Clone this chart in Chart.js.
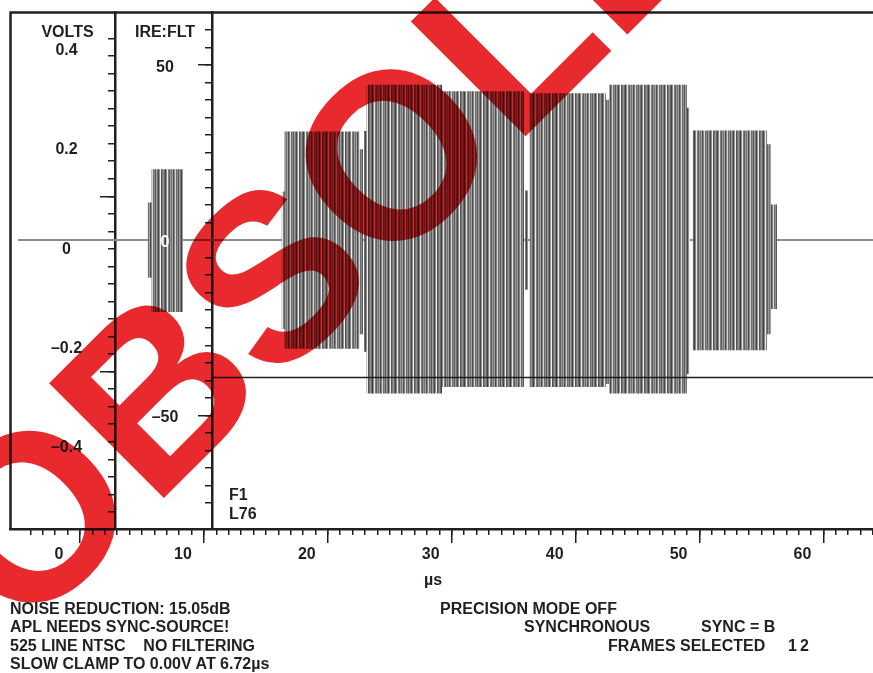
<!DOCTYPE html>
<html>
<head>
<meta charset="utf-8">
<script src="https://cdn.jsdelivr.net/npm/chart.js@4.4.1/dist/chart.umd.min.js"></script>
<style>
  body { margin: 0; background: #fff; }
  #wrap { position: relative; width: 873px; height: 673px; overflow: hidden; }
  canvas { position: absolute; left: 0; top: 0; }
  .txt { position: absolute; font: bold 16px "Liberation Sans", Arial, sans-serif; color: #231f20; line-height: 18.4px; white-space: pre; }
</style>
</head>
<body>
<div id="wrap">
  <canvas id="scope" width="873" height="673"></canvas>
  <div class="txt" style="left:413px;top:571px;width:40px;text-align:center">µs</div>
  <div class="txt" style="left:10px;top:600px">NOISE REDUCTION: 15.05dB
APL NEEDS SYNC-SOURCE!
525 LINE NTSC    NO FILTERING
SLOW CLAMP TO 0.00V AT 6.72µs</div>
  <div class="txt" style="left:440px;top:600px">PRECISION MODE OFF</div>
  <div class="txt" style="left:524px;top:618.4px">SYNCHRONOUS</div>
  <div class="txt" style="left:701px;top:618.4px">SYNC = B</div>
  <div class="txt" style="left:608px;top:636.8px">FRAMES SELECTED</div>
  <div class="txt" style="left:788px;top:636.8px">1</div>
  <div class="txt" style="left:800px;top:636.8px">2</div>
</div>
<script>
'use strict';
let ink = '#231f20';

// axis labels
let timeTicks = [0, 10, 20, 30, 40, 50, 60];
let voltTicks = [0.4, 0.2, 0, -0.2, -0.4];
let ireTicks = [50, 0, -50];

// burst packets (µs / volts)
let burstStart = [5.45, 5.77, 16.26, 16.51, 22.56, 22.92, 23.12, 29.22, 35.92, 36.28, 42.45, 42.70, 48.99, 49.44, 55.45, 55.77];
let burstEnd   = [5.77, 8.31, 16.51, 22.56, 22.84, 23.12, 29.22, 35.84, 36.16, 42.45, 42.70, 48.99, 49.23, 55.45, 55.77, 56.26];
let burstHigh  = [0.076, 0.143, 0.098, 0.219, 0.183, 0.22, 0.313, 0.300, 0.10, 0.296, 0.283, 0.313, 0.267, 0.221, 0.193, 0.072];
let burstLow   = [-0.076, -0.145, -0.179, -0.219, -0.19, -0.225, -0.309, -0.296, -0.10, -0.296, -0.29, -0.309, -0.27, -0.222, -0.19, -0.139];

// flat blanking level and the sync cursor line
let blankTime = [-5.0, 64.5];
let blankLevel = [0, 0];
let cursorTime = [10.65, 64.5];
let cursorLevel = [-0.277, -0.277];

let upper = [];
let lower = [];
for (let i = 0; i < burstStart.length; i++) {
    if (i > 0 && burstStart[i] !== burstEnd[i - 1]) {
        upper.push({x: burstStart[i], y: null});
        lower.push({x: burstStart[i], y: null});
    }
    upper.push({x: burstStart[i], y: burstHigh[i]}, {x: burstEnd[i], y: burstHigh[i]});
    lower.push({x: burstStart[i], y: burstLow[i]}, {x: burstEnd[i], y: burstLow[i]});
}

// irregular vertical stripes, like the overlapped sine cycles on the scope
function stripes() {
    let c = document.createElement('canvas');
    c.width = 23;
    c.height = 4;
    let g = c.getContext('2d');
    let shades = ['#525252', '#787878', '#939393', '#6a6a6a', '#424242', '#868686', '#e8e8e8',
                  '#7e7e7e', '#5f5f5f', '#989898', '#727272', '#a4a4a4', '#4c4c4c', '#848484',
                  '#d4d4d4', '#6e6e6e', '#8c8c8c', '#585858', '#9e9e9e', '#747474', '#464646',
                  '#929292', '#f0f0f0'];
    for (let i = 0; i < shades.length; i++) {
        g.fillStyle = shades[i];
        g.fillRect(i, 0, 1, 4);
    }
    return g.createPattern(c, 'repeat');
}
let trace = stripes();

function keepSteps(step) {
    return function (scale) {
        scale.ticks = scale.ticks.filter(t => Math.abs(t.value / step - Math.round(t.value / step)) < 1e-6);
    };
}

function tickAxis(at, min, max, step, len, border) {
    return {
        axis: 'y', position: {x: at}, min: min, max: max,
        ticks: {display: false, stepSize: step},
        afterBuildTicks: keepSteps(step),
        grid: {drawOnChartArea: false, tickLength: len, color: ink, lineWidth: 1.5},
        border: {display: border, color: ink, width: 2.5}
    };
}

function fmtVolt(v) {
    if (v === 0) return '0';
    return v.toFixed(1).replace('-', '\u2013');
}

let panelText = {
    id: 'panelText',
    afterDatasetsDraw(chart) {
        let ctx = chart.ctx;
        let a = chart.chartArea;
        ctx.save();
        ctx.strokeStyle = ink;
        ctx.lineWidth = 2.5;
        ctx.beginPath();
        ctx.moveTo(a.left + 0.5, a.bottom);
        ctx.lineTo(a.left + 0.5, a.top + 0.5);
        ctx.lineTo(a.right + 5, a.top + 0.5);
        ctx.stroke();

        ctx.font = 'bold 16px "Liberation Sans"';
        ctx.fillStyle = ink;
        ctx.textAlign = 'center';
        ctx.fillText('VOLTS', 67.5, 36.7);
        ctx.fillText('IRE:FLT', 165, 36.7);
        voltTicks.forEach(v => {
            ctx.fillText(fmtVolt(v), 66.5, chart.scales.y.getPixelForValue(v) + 13.5);
        });
        ireTicks.forEach(v => {
            ctx.fillStyle = v === 0 ? '#ffffff' : ink;
            ctx.fillText(String(v).replace('-', '\u2013'), 165, chart.scales.ire.getPixelForValue(v) + 7);
        });
        ctx.fillStyle = ink;
        ctx.textAlign = 'left';
        ctx.fillText('F1', 229, 500);
        ctx.fillText('L76', 229, 519);
        ctx.restore();
    }
};

let watermark = {
    id: 'watermark',
    afterDraw(chart) {
        let ctx = chart.ctx;
        ctx.save();
        ctx.globalCompositeOperation = 'multiply';
        ctx.fillStyle = 'rgb(232, 42, 46)';
        ctx.translate(23, 639);
        ctx.rotate(-Math.PI / 4);
        ctx.font = 'bold 236px "Liberation Sans"';
        ctx.fillText('OBSOLETE', 0, 0);
        ctx.restore();
    }
};

new Chart(document.getElementById('scope'), {
    type: 'line',
    data: {
        datasets: [
            {
                label: 'cursor', order: 0, xAxisID: 'x', yAxisID: 'y',
                data: cursorTime.map((t, i) => ({x: t, y: cursorLevel[i]})),
                borderColor: ink, borderWidth: 1.5, pointRadius: 0, fill: false
            },
            {
                label: 'upper', order: 1, xAxisID: 'x', yAxisID: 'y',
                data: upper, borderWidth: 0, pointRadius: 0, spanGaps: false,
                backgroundColor: trace, fill: 'origin'
            },
            {
                label: 'lower', order: 1, xAxisID: 'x', yAxisID: 'y',
                data: lower, borderWidth: 0, pointRadius: 0, spanGaps: false,
                backgroundColor: trace, fill: 'origin'
            },
            {
                label: 'blank', order: 2, xAxisID: 'x', yAxisID: 'y',
                data: blankTime.map((t, i) => ({x: t, y: blankLevel[i]})),
                borderColor: '#8c8c8c', borderWidth: 2, pointRadius: 0, fill: false
            }
        ]
    },
    options: {
        responsive: false,
        devicePixelRatio: 1,
        animation: false,
        events: [],
        layout: {padding: {left: 10, top: 12, right: 0, bottom: 106.8}},
        plugins: {legend: {display: false}, tooltip: {enabled: false}},
        scales: {
            x: {
                type: 'linear', position: 'bottom', min: -5.65, max: 64.0,
                afterBuildTicks: s => { s.ticks = timeTicks.map(v => ({value: v})); },
                grid: {drawOnChartArea: false, tickLength: 14, color: ink, lineWidth: 1.5},
                border: {display: true, color: ink, width: 2.5},
                ticks: {
                    labelOffset: -21, padding: 2, color: ink, maxRotation: 0, autoSkip: false,
                    font: {family: 'Liberation Sans', size: 16, weight: 'bold'}
                }
            },
            xMinor: {
                axis: 'x', type: 'linear', position: {y: -0.5823}, min: -5.65, max: 64.0,
                ticks: {display: false, stepSize: 1},
                afterBuildTicks: keepSteps(1),
                grid: {drawOnChartArea: false, tickLength: 6, color: ink, lineWidth: 1.5},
                border: {display: false}
            },
            y: {type: 'linear', display: false, min: -0.5823, max: 0.4598},
            ire: tickAxis(10.65, -82.39, 65.06, 5, 6, true),
            ireMajor: tickAxis(10.65, -82.39, 65.06, 50, 14, false),
            p1: tickAxis(2.82, -94.89, 52.56, 5, 6, true),
            p1Major: tickAxis(2.82, -94.89, 52.56, 50, 15, false)
        }
    },
    plugins: [panelText, watermark]
});
</script>
</body>
</html>
